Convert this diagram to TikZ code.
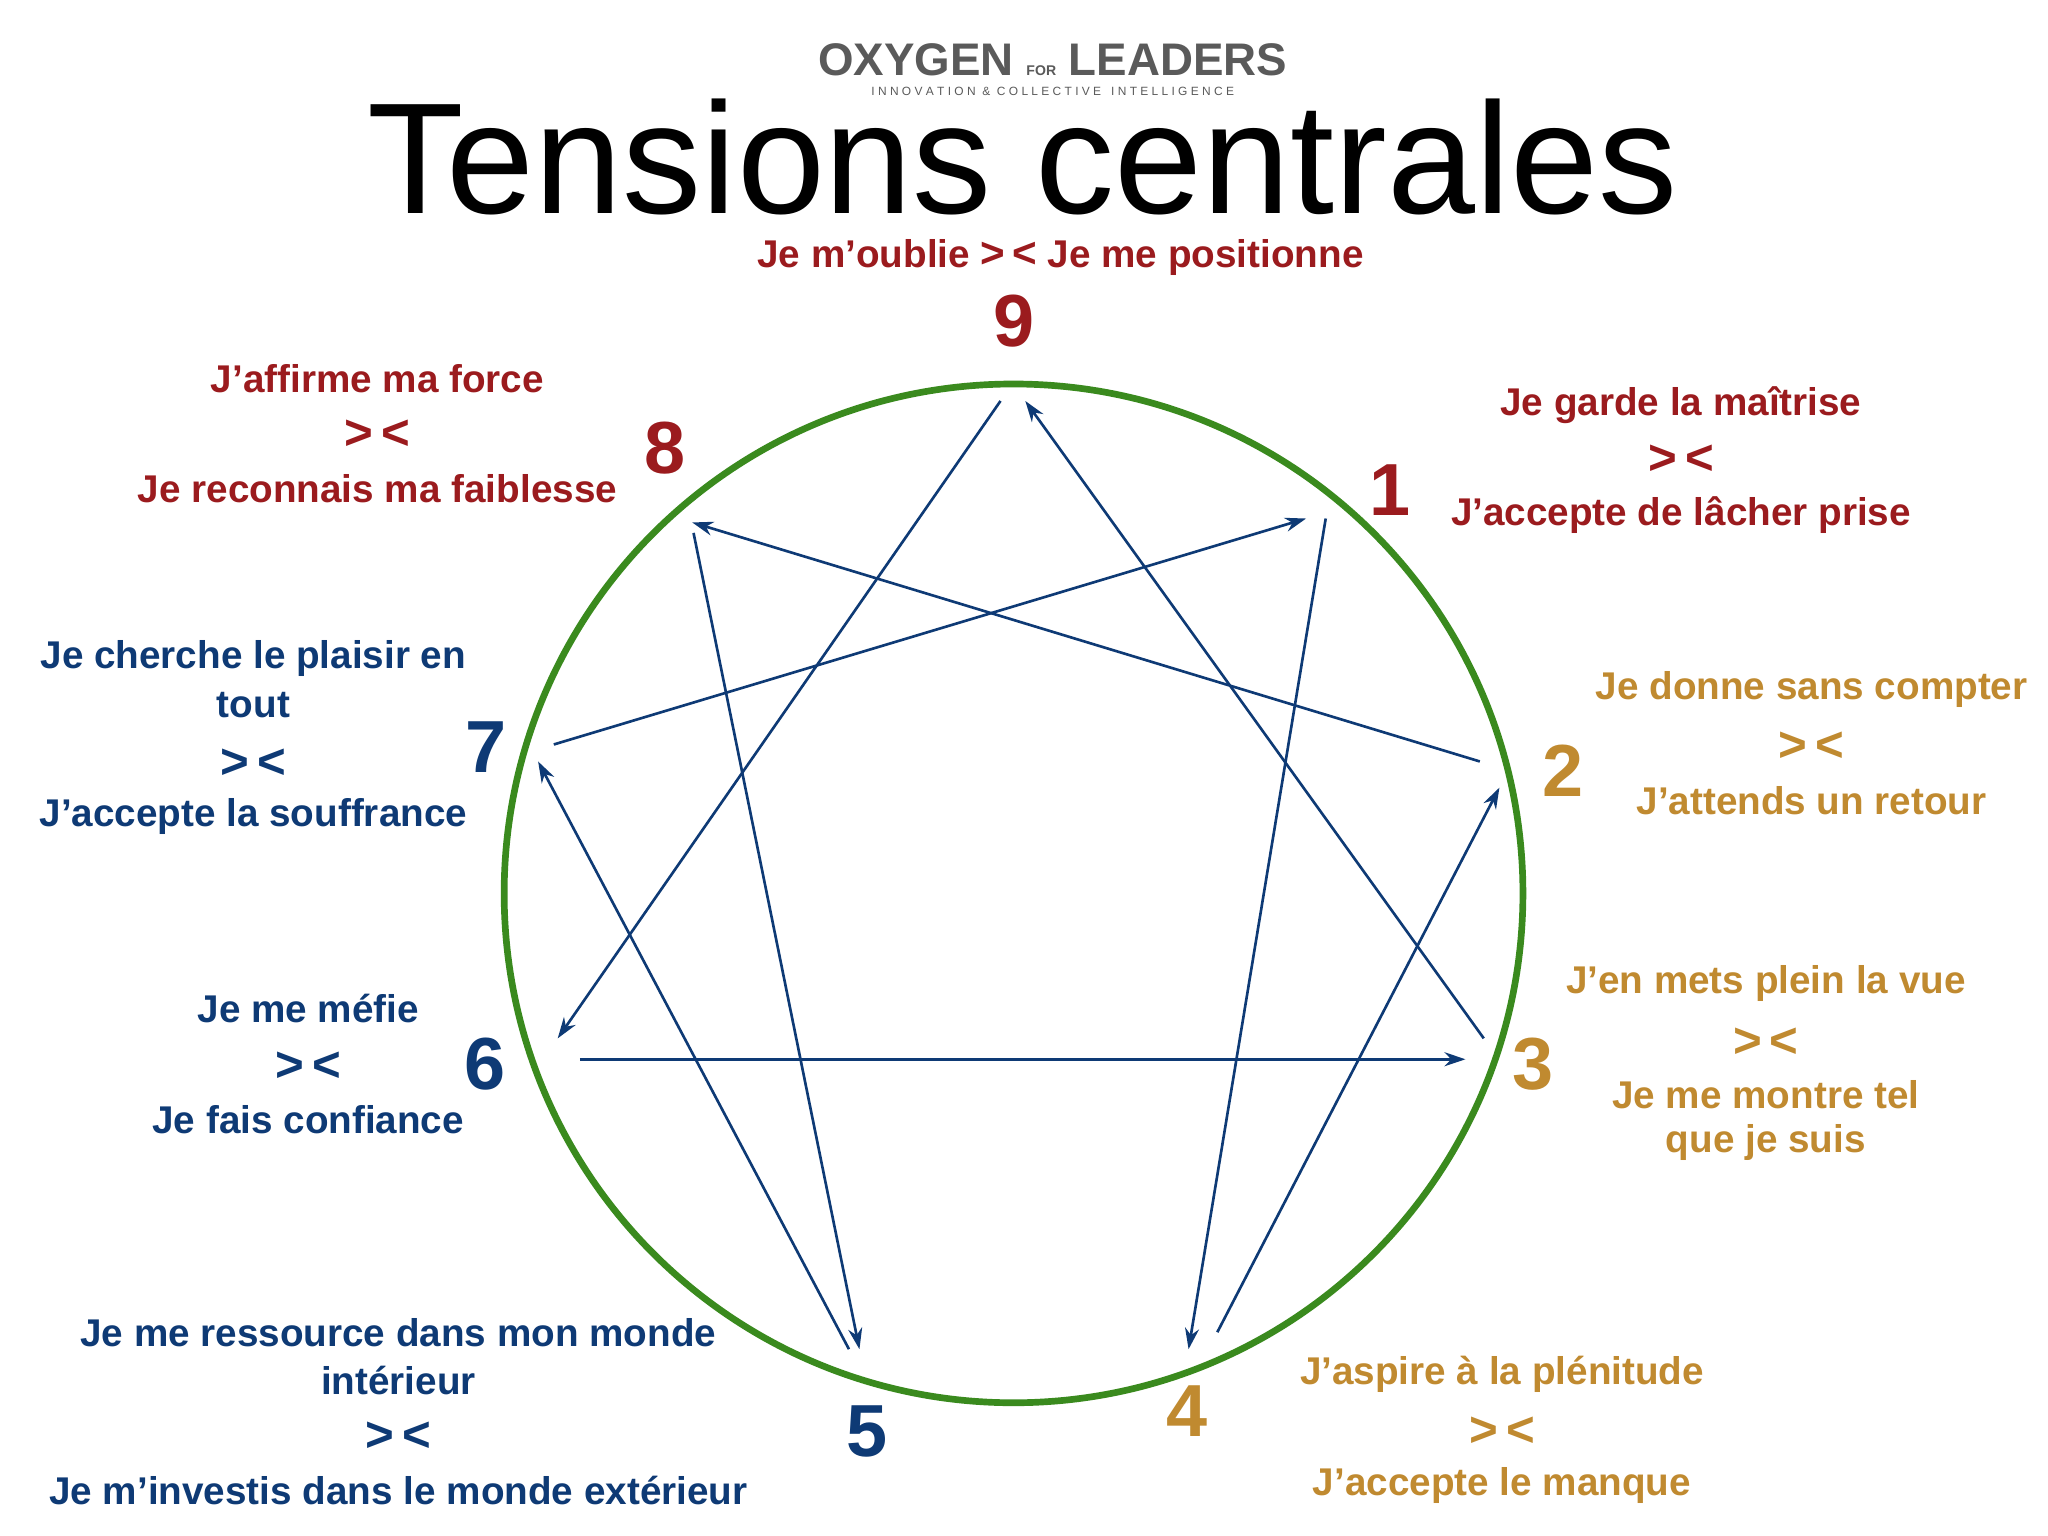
\documentclass[tikz,border=0pt]{standalone}
\usepackage{fontspec}
\setmainfont{Liberation Sans}
\usetikzlibrary{arrows.meta}
\definecolor{cred}{HTML}{9B1B1E}
\definecolor{cgold}{HTML}{C08A30}
\definecolor{cblue}{HTML}{0E3A75}
\definecolor{cgreen}{HTML}{3A8A1E}
\definecolor{cgrey}{HTML}{5A5A5A}
\begin{document}
\begin{tikzpicture}[x=0.01306cm,y=-0.01306cm,
  lab/.style={font=\fontsize{11}{12}\selectfont\bfseries,inner sep=0pt},
  gt/.style={font=\fontsize{14}{16}\selectfont\bfseries,inner sep=0pt},
  num/.style={font=\fontsize{21}{24}\selectfont\bfseries,inner sep=0pt},
  arr/.style={cblue,line width=0.75pt,-{Stealth[length=6pt,width=4pt]}}]
\useasboundingbox (0,0) rectangle (1568,1176);
\fill[white] (0,0) rectangle (1568,1176);
% logo
\node[inner sep=0pt,cgrey,font=\fontsize{13}{14}\selectfont\bfseries] (logo) at (806,46) {OXYGEN {\fontsize{4}{5}\selectfont FOR} LEADERS};
\node[inner sep=0pt,cgrey,font=\fontsize{3.4}{4}\selectfont] (logo2) at (806,70) {I N N O V A T I O N \ \& \ C O L L E C T I V E \ \ I N T E L L I G E N C E};
\node[inner sep=0pt,font=\fontsize{45}{50}\selectfont] (title) at (783,120) {Tensions centrales};
% circle
\draw[cgreen,line width=1.9pt] (776,684) circle (390);
% coordinates
\coordinate (a9s) at (766,307); \coordinate (a6e) at (427,795);
\coordinate (a3s) at (1136,795); \coordinate (a9e) at (785,307);
\coordinate (a2s) at (1133,583); \coordinate (a8e) at (530,400);
\coordinate (a7s) at (424,570); \coordinate (a1e) at (1000,397);
\coordinate (a1s) at (1015,397); \coordinate (a4e) at (910,1033);
\coordinate (a4s) at (932,1020); \coordinate (a2e) at (1148,603);
\coordinate (a8s) at (531,408); \coordinate (a5e) at (658,1033);
\coordinate (a5s) at (650,1033); \coordinate (a7e) at (412,583);
\coordinate (a6s) at (444,811); \coordinate (a3e) at (1122,811);
\draw[arr] (a9s) -- (a6e);
\draw[arr] (a3s) -- (a9e);
\draw[arr] (a2s) -- (a8e);
\draw[arr] (a7s) -- (a1e);
\draw[arr] (a1s) -- (a4e);
\draw[arr] (a4s) -- (a2e);
\draw[arr] (a8s) -- (a5e);
\draw[arr] (a5s) -- (a7e);
\draw[arr] (a6s) -- (a3e);
% 9
\node[lab,cred] (t9) at (812,197) {Je m’oublie {\fontsize{12}{13}\selectfont >\,<} Je me positionne};
\node[num,cred] (n9) at (776,246) {9};
% 8
\node[lab,cred] (t8a) at (289,290) {J’affirme ma force};
\node[gt,cred] (t8b) at (289,333) {>\,<};
\node[lab,cred] (t8c) at (289,374) {Je reconnais ma faiblesse};
\node[num,cred] (n8) at (509,343) {8};
% 1
\node[lab,cred] (t1a) at (1287,310) {Je garde la maîtrise};
\node[gt,cred] (t1b) at (1287,352) {>\,<};
\node[lab,cred] (t1c) at (1287,394) {J’accepte de lâcher prise};
\node[num,cred] (n1) at (1064,375) {1};
% 2
\node[lab,cgold] (t2a) at (1387,528) {Je donne sans compter};
\node[gt,cgold] (t2b) at (1387,572) {>\,<};
\node[lab,cgold] (t2c) at (1387,613) {J’attends un retour};
\node[num,cgold] (n2) at (1197,590) {2};
% 3
\node[lab,cgold] (t3a) at (1352,753) {J’en mets plein la vue};
\node[gt,cgold] (t3b) at (1352,798) {>\,<};
\node[lab,cgold] (t3c) at (1352,838) {Je me montre tel};
\node[lab,cgold] (t3d) at (1352,875) {que je suis};
\node[num,cgold] (n3) at (1174,815) {3};
% 4
\node[lab,cgold] (t4a) at (1150,1052) {J’aspire à la plénitude};
\node[gt,cgold] (t4b) at (1150,1096) {>\,<};
\node[lab,cgold] (t4c) at (1150,1137) {J’accepte le manque};
\node[num,cgold] (n4) at (909,1080) {4};
% 5
\node[lab,cblue] (t5a) at (305,1020) {Je me ressource dans mon monde};
\node[lab,cblue] (t5b) at (305,1057) {intérieur};
\node[gt,cblue] (t5c) at (305,1100) {>\,<};
\node[lab,cblue] (t5d) at (305,1141) {Je m’investis dans le monde extérieur};
\node[num,cblue] (n5) at (664,1096) {5};
% 6
\node[lab,cblue] (t6a) at (236,772) {Je me méfie};
\node[gt,cblue] (t6b) at (236,817) {>\,<};
\node[lab,cblue] (t6c) at (236,857) {Je fais confiance};
\node[num,cblue] (n6) at (371,815) {6};
% 7
\node[lab,cblue] (t7a) at (194,504) {Je cherche le plaisir en};
\node[lab,cblue] (t7b) at (194,540) {tout};
\node[gt,cblue] (t7c) at (194,585) {>\,<};
\node[lab,cblue] (t7d) at (194,625) {J’accepte la souffrance};
\node[num,cblue] (n7) at (372,572) {7};
\end{tikzpicture}
\end{document}
